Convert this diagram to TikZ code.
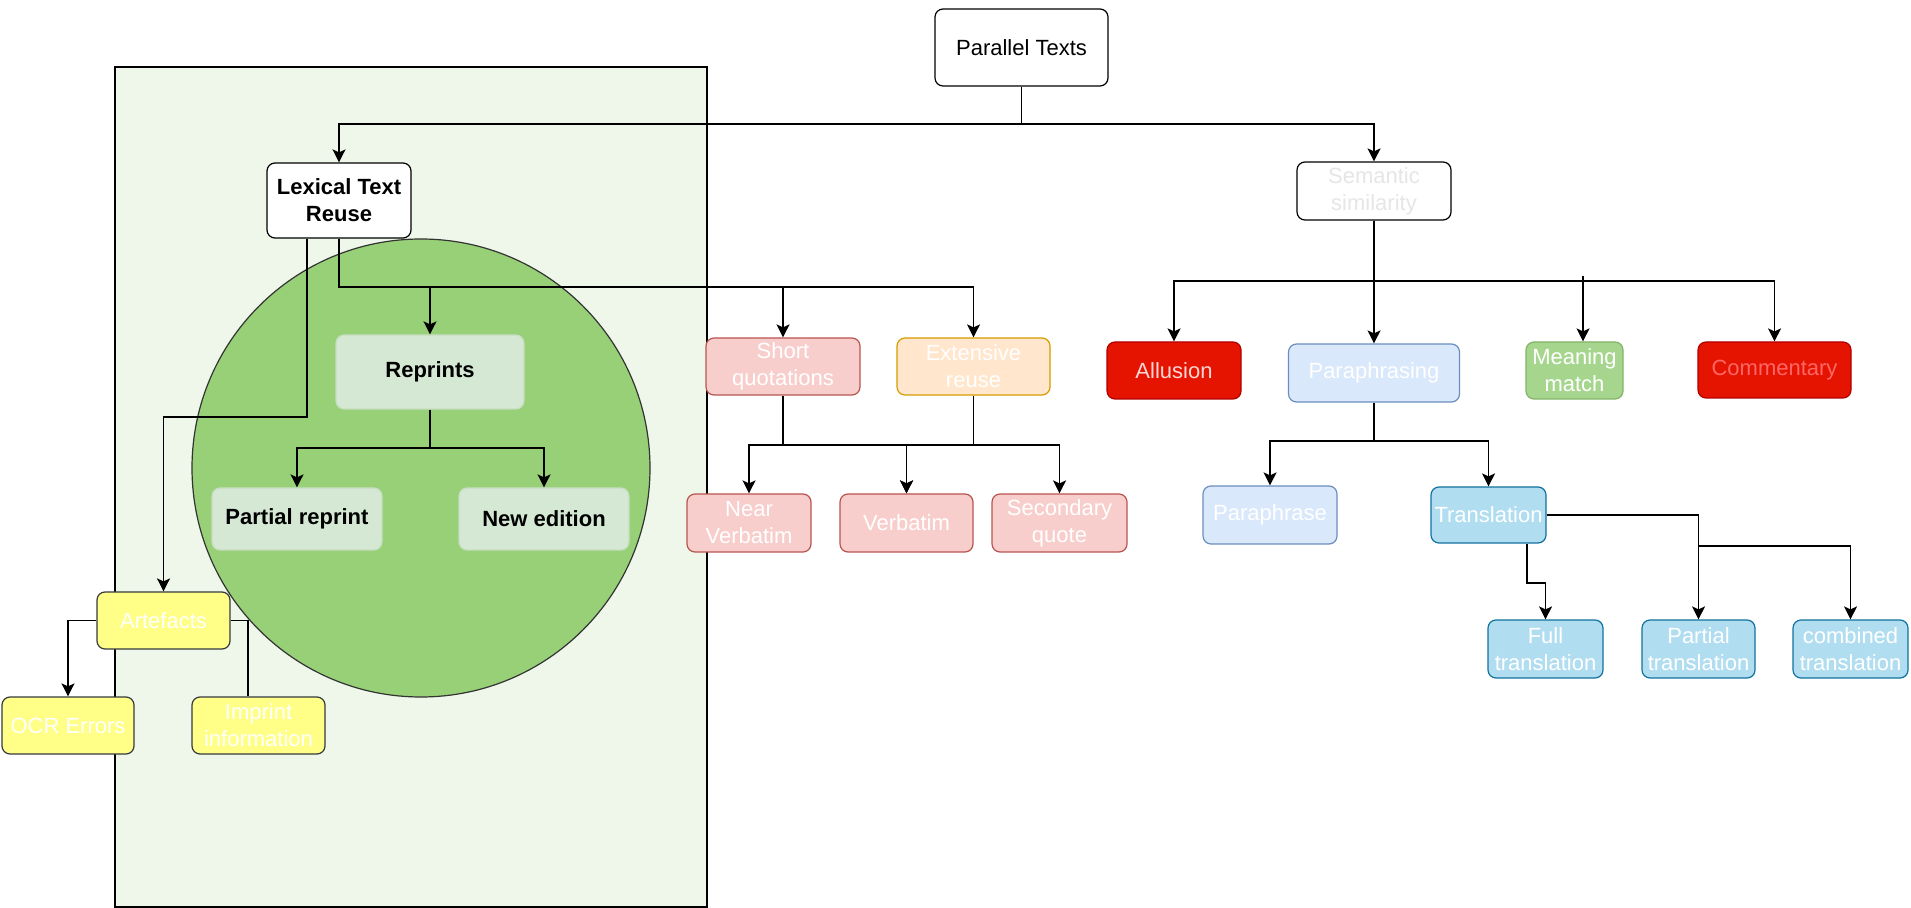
\documentclass[tikz,border=0pt]{standalone}
\usepackage{fontspec}
\setmainfont{Liberation Sans}
\usetikzlibrary{arrows.meta}
\definecolor{bgreen}{HTML}{EEF7E9}
\definecolor{cgreen}{HTML}{97D077}
\definecolor{rfill}{HTML}{D5E8D4}
\definecolor{rdraw}{HTML}{C6DDC0}
\definecolor{pinkf}{HTML}{F8CECC}
\definecolor{pinkd}{HTML}{B85450}
\definecolor{orf}{HTML}{FFE6CC}
\definecolor{ord}{HTML}{D79B00}
\definecolor{redf}{HTML}{E51400}
\definecolor{redd}{HTML}{B20000}
\definecolor{redt}{HTML}{FF6666}
\definecolor{allt}{HTML}{FFD6D6}
\definecolor{bluef}{HTML}{DAE8FC}
\definecolor{blued}{HTML}{6C8EBF}
\definecolor{mgf}{HTML}{A6D68E}
\definecolor{mgd}{HTML}{82B366}
\definecolor{tf}{HTML}{B1DDF0}
\definecolor{td}{HTML}{10739E}
\definecolor{yf}{HTML}{FFFF88}
\definecolor{yd}{HTML}{36393D}
\definecolor{semt}{HTML}{E6E6E6}
\tikzset{
  base/.style={rounded corners=4pt, align=center, inner sep=1pt, line width=0.6pt,
    font=\fontsize{11}{13.5}\selectfont},
  plainbox/.style={base, fill=white, draw=black, text=black},
  boldbox/.style={base, fill=white, draw=black, text=black, font=\fontsize{11}{13.5}\selectfont\bfseries},
  reprbox/.style={base, fill=rfill, draw=rdraw, text=black, font=\fontsize{11}{13.5}\selectfont\bfseries},
  pinkbox/.style={base, fill=pinkf, draw=pinkd, text=white},
  orbox/.style={base, fill=orf, draw=ord, text=white},
  redbox/.style={base, fill=redf, draw=redd},
  bluebox/.style={base, fill=bluef, draw=blued, text=white},
  mgbox/.style={base, fill=mgf, draw=mgd, text=white},
  tbox/.style={base, fill=tf, draw=td, text=white},
  ybox/.style={base, fill=yf, draw=yd, text=white},
  semsbox/.style={base, fill=white, draw=black, text=semt},
  arr/.style={line width=0.85pt, -{Stealth[length=6.5pt,width=6.5pt,inset=1.5pt]}},
  ln/.style={line width=0.85pt},
}
\begin{document}
\begin{tikzpicture}[x=0.5pt,y=-0.5pt]
\path[fill=white,use as bounding box] (0,0) rectangle (1911,908);
% background group
\path[fill=bgreen, draw=black, line width=0.6pt] (115,67) rectangle (707,907);
\path[fill=cgreen, draw=black!80, line width=0.6pt] (421,468) circle[radius=114.5pt];

% nodes
\node[plainbox, minimum width=86.5pt, minimum height=38.5pt] (pt) at (1021.5,47.5) {Parallel Texts};
\node[boldbox, minimum width=72pt, minimum height=37.5pt] (lex) at (339,200.5) {Lexical Text\\Reuse};
\node[semsbox, minimum width=77pt, minimum height=29pt] (sem) at (1374,191) {Semantic\\similarity};

\node[reprbox, minimum width=94pt, minimum height=37pt] (reprints) at (430,372) {Reprints};
\node[reprbox, minimum width=85pt, minimum height=31pt] (prep) at (297,519) {Partial reprint};
\node[reprbox, minimum width=85pt, minimum height=31pt] (ned) at (544,519) {New edition};

\node[ybox, minimum width=66.5pt, minimum height=28.5pt] (art) at (163.5,620.5) {Artefacts};
\node[ybox, minimum width=66pt, minimum height=28.5pt] (ocr) at (68,725.5) {OCR Errors};
\node[ybox, minimum width=66.5pt, minimum height=28.5pt] (imp) at (258.5,725.5) {Imprint\\information};

\node[pinkbox, minimum width=77pt, minimum height=28.5pt] (shortq) at (783,366.5) {Short\\quotations};
\node[orbox, minimum width=76.5pt, minimum height=28.5pt] (ext) at (973.5,366.5) {Extensive\\reuse};
\node[pinkbox, minimum width=62pt, minimum height=29pt] (nearv) at (749,523) {Near\\Verbatim};
\node[pinkbox, minimum width=66.5pt, minimum height=29pt] (verb) at (906.5,523) {Verbatim};
\node[pinkbox, minimum width=67.5pt, minimum height=29pt] (secq) at (1059.5,523) {Secondary\\quote};

\node[redbox, text=allt, minimum width=67pt, minimum height=28.5pt] (allu) at (1174,370.5) {Allusion};
\node[bluebox, minimum width=85.5pt, minimum height=29pt] (parphg) at (1374,373) {Paraphrasing};
\node[mgbox, minimum width=48.5pt, minimum height=28.5pt] (mm) at (1574.5,370.5) {Meaning\\match};
\node[redbox, text=redt, minimum width=76.5pt, minimum height=28pt] (comm) at (1774.5,370) {Commentary};

\node[bluebox, minimum width=67pt, minimum height=29pt] (parphr) at (1270,515) {Paraphrase};
\node[tbox, minimum width=57.5pt, minimum height=28pt] (trans) at (1488.5,515) {Translation};
\node[tbox, minimum width=57.5pt, minimum height=29pt] (fullt) at (1545.5,649) {Full\\translation};
\node[tbox, minimum width=56.5pt, minimum height=29pt] (partt) at (1698.5,649) {Partial\\translation};
\node[tbox, minimum width=57.5pt, minimum height=29pt] (combt) at (1850.5,649) {combined\\translation};

% junction coordinates
\coordinate (j1) at (1021.5,124);
\coordinate (j2) at (339,287);
\coordinate (j3) at (307,417);
\coordinate (j4) at (430,448);
\coordinate (j5) at (783,445);
\coordinate (j6) at (973.5,445);
\coordinate (j7) at (1374,281);
\coordinate (j8) at (1374,441);
\coordinate (j9) at (1698.5,546);
\coordinate (j10) at (1545.5,583);
\coordinate (j11) at (1583,276);

% connectors
\draw[arr] (pt.south) -- (j1) -| (lex.north);
\draw[arr] (pt.south) -- (j1) -| (sem.north);

\draw[arr] (lex.south) -- (j2) -| (reprints.north);
\draw[arr] (lex.south) -- (j2) -| (shortq.north);
\draw[arr] (lex.south) -- (j2) -| (ext.north);
\draw[arr] ([xshift=-16pt]lex.south) -- (j3) -| (art.north);

\draw[arr] (reprints.south) -- (j4) -| (prep.north);
\draw[arr] (reprints.south) -- (j4) -| (ned.north);

\draw[arr] (art.west) -| (ocr.north);
\draw[ln] (art.east) -| ([xshift=-5.25pt]imp.north);

\draw[arr] (shortq.south) -- (j5) -| (nearv.north);
\draw[arr] (shortq.south) -- (j5) -| (verb.north);
\draw[arr] (ext.south) -- (j6) -| (verb.north);
\draw[arr] (ext.south) -- (j6) -| (secq.north);

\draw[arr] (sem.south) -- (j7) -| (allu.north);
\draw[arr] (sem.south) -- (parphg.north);
\draw[ln] (sem.south) -- (j7) -| (comm.north);
\draw[arr] (j11) -- ([xshift=4.25pt]mm.north);
\draw[arr] (sem.south) -- (j7) -| (comm.north);

\draw[arr] (parphg.south) -- (j8) -| (parphr.north);
\draw[arr] (parphg.south) -- (j8) -| (trans.north);

\draw[arr] (trans.east) -| (partt.north);
\draw[arr] (trans.east) -| (j9) -| (combt.north);
\draw[arr] ([xshift=19.25pt]trans.south) |- (j10) -- (fullt.north);
\end{tikzpicture}
\end{document}
